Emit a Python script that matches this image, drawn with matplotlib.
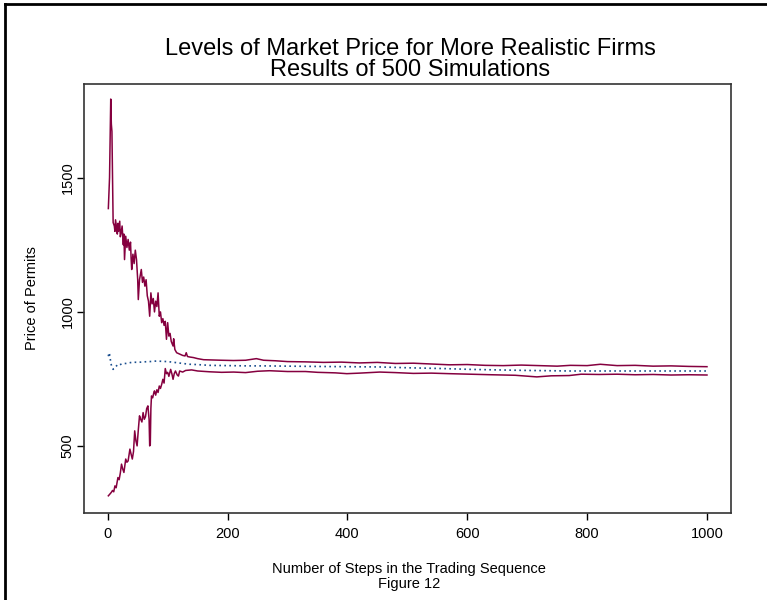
import matplotlib
matplotlib.use("Agg")
import matplotlib.pyplot as plt
from matplotlib.lines import Line2D

plt.rcParams['font.family'] = ['Liberation Sans', 'DejaVu Sans']

# upper band of simulated prices
upper_steps = [1, 3, 5, 6, 7, 8, 9, 11, 12, 13, 15, 16, 17, 18, 20, 21, 22, 24, 26, 27,
               28, 30, 32, 34, 36, 38, 39, 40, 42, 44, 46, 48, 50, 51, 53, 56, 58, 60, 62, 64,
               66, 68, 70, 72, 74, 76, 78, 80, 82, 84, 86, 88, 90, 92, 94, 96, 98, 100, 102, 104,
               106, 109, 110, 112, 115, 118, 121, 125, 129, 131, 133, 137, 143, 150, 160, 175, 190, 210, 230, 248,
               260, 280, 300, 330, 360, 390, 420, 450, 480, 510, 540, 570, 600, 630, 660, 690, 720, 750, 772, 800,
               822, 850, 880, 910, 940, 970, 1000]
upper_price = [1385, 1500, 1793, 1700, 1672, 1500, 1333, 1320, 1300, 1343, 1310, 1290, 1330, 1300, 1338, 1280, 1290, 1320, 1250, 1290,
               1195, 1282, 1240, 1270, 1230, 1260, 1200, 1158, 1215, 1180, 1230, 1195, 1120, 1046, 1120, 1158, 1110, 1130, 1096, 1120,
               1060, 1040, 984, 1071, 1030, 1050, 1000, 1040, 1020, 1071, 984, 1000, 960, 975, 950, 965, 898, 960, 910, 920,
               890, 873, 900, 860, 848, 845, 842, 838, 836, 848, 834, 832, 830, 826, 822, 821, 820, 819, 820, 826,
               820, 818, 815, 814, 812, 813, 810, 812, 808, 809, 806, 803, 804, 801, 800, 802, 800, 798, 801, 800,
               805, 800, 801, 798, 799, 797, 796]

# lower band of simulated prices
lower_steps = [1, 3, 6, 8, 10, 12, 14, 17, 19, 21, 23, 25, 27, 30, 32, 34, 37, 39, 41, 43,
               45, 47, 49, 51, 53, 55, 57, 59, 61, 63, 65, 67, 69, 70, 71, 72, 73, 75, 77, 78,
               80, 82, 84, 86, 88, 90, 92, 94, 96, 98, 100, 102, 105, 107, 109, 111, 113, 116, 118, 120,
               125, 130, 140, 150, 170, 190, 210, 230, 250, 270, 300, 330, 350, 380, 399, 420, 454, 480, 510, 540,
               570, 605, 640, 680, 716, 740, 770, 790, 820, 850, 880, 910, 940, 970, 1000]
lower_price = [315, 320, 328, 335, 330, 352, 345, 383, 375, 400, 433, 415, 402, 452, 440, 445, 489, 470, 452, 480,
               557, 520, 501, 560, 613, 600, 590, 625, 600, 610, 640, 650, 600, 501, 505, 640, 687, 680, 700, 706,
               690, 710, 700, 724, 715, 730, 749, 735, 789, 770, 775, 760, 786, 770, 749, 770, 780, 765, 761, 780,
               776, 782, 784, 780, 777, 775, 776, 774, 779, 781, 778, 778, 775, 773, 770, 772, 776, 774, 771, 772,
               770, 768, 766, 764, 758, 762, 763, 768, 767, 768, 766, 767, 765, 766, 765]

# mean market price across simulations
mean_steps = [1, 2, 3, 4, 5, 7, 9, 11, 13, 15, 17, 20, 25, 30, 35, 42, 50, 60, 70, 81,
              90, 100, 115, 125, 137, 148, 170, 200, 232, 260, 300, 343, 400, 454, 500, 560, 605, 650, 700, 772,
              850, 920, 1000]
mean_price = [835, 848, 842, 830, 810, 795, 786, 790, 795, 800, 805, 803, 808, 808, 810, 813, 812, 814, 815, 817,
              816, 815, 811, 808, 805, 804, 801, 800, 799, 799, 798, 797, 796, 795, 792, 789, 786, 784, 782, 780,
              780, 780, 780]

band_color = '#85003f'
mean_color = '#1b4f8f'

fig = plt.figure(figsize=(7.67, 6.0), dpi=100)
ax = fig.add_axes([0.110, 0.145, 0.843, 0.715])

ax.plot(upper_steps, upper_price, color=band_color, lw=1.1)
ax.plot(lower_steps, lower_price, color=band_color, lw=1.1)
ax.plot(mean_steps, mean_price, color=mean_color, lw=1.2, ls=(0, (1, 2)))

ax.set_xlim(-39, 1040)
ax.set_ylim(251, 1849)
ax.set_xticks([0, 200, 400, 600, 800, 1000])
ax.set_yticks([500, 1000, 1500])
ax.set_yticklabels(['500', '1000', '1500'], rotation=90, va='center')
ax.tick_params(direction='out', length=5, width=1, labelsize=10.5, colors='black')
ax.tick_params(axis='x', pad=5)
ax.tick_params(axis='y', pad=2)

for s in ax.spines.values():
    s.set_linewidth(1.2)
    s.set_color('#333333')

fig.text(0.535, 0.919, 'Levels of Market Price for More Realistic Firms',
         ha='center', va='center', fontsize=17)
fig.text(0.535, 0.883, 'Results of 500 Simulations',
         ha='center', va='center', fontsize=17)
fig.text(0.533, 0.052, 'Number of Steps in the Trading Sequence',
         ha='center', va='center', fontsize=10.5)
fig.text(0.533, 0.027, 'Figure 12', ha='center', va='center', fontsize=10.5)
fig.text(0.042, 0.503, 'Price of Permits', ha='center', va='center',
         rotation=90, fontsize=10.5)

# outer frame along the left and top edges
fig.add_artist(Line2D([0.006, 0.006], [0.0, 0.993], color='black', lw=2))
fig.add_artist(Line2D([0.006, 1.0], [0.993, 0.993], color='black', lw=2))

fig.savefig('out.png', dpi=100)
